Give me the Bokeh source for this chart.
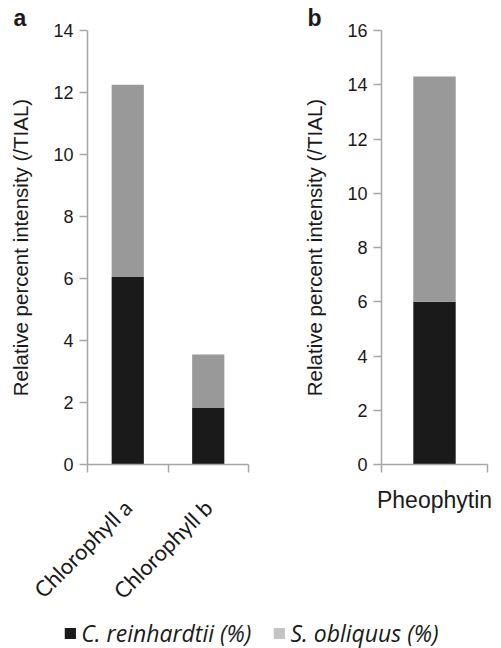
from bokeh.plotting import figure
from bokeh.layouts import column, row
from bokeh.models import (ColumnDataSource, Range1d, FixedTicker, Legend, LegendItem)
from bokeh.embed import file_html
from bokeh.resources import INLINE

# ---- data ----
cats_a = ["Chlorophyll a", "Chlorophyll b"]
reinhardtii_a = [6.05, 1.82]
obliquus_a = [6.2, 1.73]

cats_b = ["Pheophytin"]
reinhardtii_b = [6.0]
obliquus_b = [8.3]

y_ticks_a = [0, 2, 4, 6, 8, 10, 12, 14]
y_ticks_b = [0, 2, 4, 6, 8, 10, 12, 14, 16]

series_names = ["C. reinhardtii (%)", "S. obliquus (%)"]
bar_colors = ["#1a1a1a", "#999999"]
legend_colors = ["#1a1a1a", "#c4c4c4"]
y_label = "Relative percent intensity (/TIAL)"
panel_letters = ["a", "b"]

AXIS_COLOR = "#a6a6a6"
TEXT_COLOR = "#1a1a1a"
FIG_H = 618


def make_panel(letter, letter_offset, cats, c_vals, s_vals, yticks, width, borders,
               cat_font, cat_size, orient, cat_standoff):
    n = len(cats)
    xs = [i + 0.5 for i in range(n)]
    src = ColumnDataSource(dict(x=xs, c=c_vals, s=s_vals))
    p = figure(width=width, height=FIG_H, output_backend="svg", toolbar_location=None,
               x_range=Range1d(0, n), y_range=Range1d(yticks[0], yticks[-1]),
               min_border_left=borders[0], min_border_right=borders[1],
               min_border_top=borders[2], min_border_bottom=borders[3])
    p.vbar_stack(["c", "s"], x="x", width=0.4, color=bar_colors, line_color=None, source=src)
    p.outline_line_color = None
    p.xgrid.grid_line_color = None
    p.ygrid.grid_line_color = None
    p.background_fill_color = "white"

    p.title.text = letter
    p.title.align = "left"
    p.title.offset = letter_offset
    p.title.standoff = 0
    p.title.text_font = "Liberation Sans"
    p.title.text_font_style = "bold"
    p.title.text_font_size = "23px"
    p.title.text_color = TEXT_COLOR

    xa = p.xaxis[0]
    xa.ticker = FixedTicker(ticks=xs, minor_ticks=list(range(n + 1)))
    xa.major_label_overrides = {x: c for x, c in zip(xs, cats)}
    xa.major_tick_out = 0
    xa.major_tick_in = 0
    xa.minor_tick_out = 8
    xa.minor_tick_in = 0
    xa.minor_tick_line_color = AXIS_COLOR
    xa.minor_tick_line_width = 1.5
    xa.axis_line_color = AXIS_COLOR
    xa.axis_line_width = 1.5
    xa.major_label_text_font = cat_font
    xa.major_label_text_font_size = cat_size
    xa.major_label_text_color = TEXT_COLOR
    xa.major_label_orientation = orient
    xa.major_label_standoff = cat_standoff

    ya = p.yaxis[0]
    ya.ticker = FixedTicker(ticks=yticks)
    ya.major_tick_out = 8
    ya.major_tick_in = 0
    ya.minor_tick_line_color = None
    ya.major_tick_line_color = AXIS_COLOR
    ya.major_tick_line_width = 1.5
    ya.axis_line_color = AXIS_COLOR
    ya.axis_line_width = 1.5
    ya.major_label_text_font = "Liberation Sans"
    ya.major_label_text_font_size = "18px"
    ya.major_label_text_color = TEXT_COLOR
    ya.major_label_standoff = 6
    ya.axis_label = y_label
    ya.axis_label_text_font = "Liberation Sans"
    ya.axis_label_text_font_size = "20.5px"
    ya.axis_label_text_font_style = "normal"
    ya.axis_label_text_color = TEXT_COLOR
    ya.axis_label_standoff = 18
    return p, src


pa, src_a = make_panel(panel_letters[0], -74, cats_a, reinhardtii_a, obliquus_a, y_ticks_a, 272,
                       (87, 24, 30, FIG_H - 469), "Lato", "22px", 0.785398, 31)
pb, src_b = make_panel(panel_letters[1], -74, cats_b, reinhardtii_b, obliquus_b, y_ticks_b, 229,
                       (109, 14, 30, FIG_H - 464), "Liberation Sans", "23px", "horizontal", 14)

# legend strip (renderers kept hidden; only their legend icons are shown)
pl = figure(width=501, height=648 - FIG_H, output_backend="svg", toolbar_location=None,
            x_range=Range1d(0, 1), y_range=Range1d(0, 1),
            min_border_left=0, min_border_right=0, min_border_top=0, min_border_bottom=0)
pl.axis.visible = False
pl.grid.visible = False
pl.outline_line_color = None
items = []
for name, col, field in zip(series_names, legend_colors, ["c", "s"]):
    r = pl.vbar(x="x", top=field, width=0.4, color=col, line_color=None,
                source=ColumnDataSource(data=dict(src_a.data)))
    r.visible = False
    items.append(LegendItem(label=name, renderers=[r]))
leg = Legend(items=items, orientation="horizontal", location="center",
             label_text_font="Open Sans", label_text_font_style="italic",
             label_text_font_size="23px", label_text_color=TEXT_COLOR,
             glyph_width=14, glyph_height=14, label_standoff=5, spacing=20,
             padding=0, margin=0, border_line_color=None, background_fill_alpha=0,
             click_policy="none")
pl.add_layout(leg, "center")

layout = column(row(pa, pb), pl)
open("out.html", "w").write(file_html(layout, INLINE))
